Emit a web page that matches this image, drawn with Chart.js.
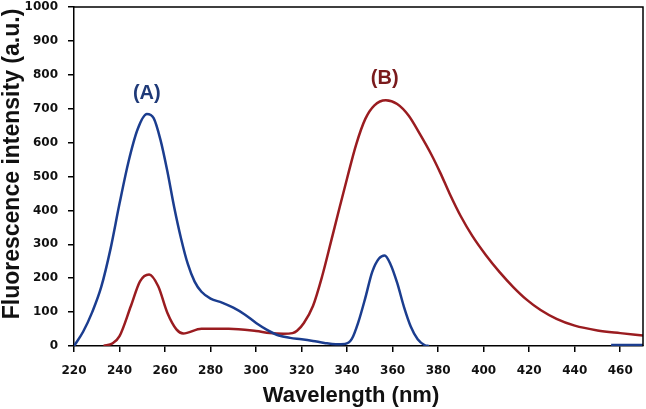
<!DOCTYPE html>
<html>
<head>
<meta charset="utf-8">
<script src="https://cdn.jsdelivr.net/npm/chart.js@4.4.1/dist/chart.umd.min.js"></script>
<style>
  html, body { margin: 0; padding: 0; background: #fff; }
  #wrap { width: 646px; height: 409px; }
</style>
</head>
<body>
<div id="wrap"><canvas id="myChart"></canvas></div>
<script>
// spectrum A (blue)
const blueWavelength = [220, 224, 228, 232, 236, 240, 244, 248, 252, 255, 258, 261, 264, 267, 270, 273, 276, 280, 285, 290, 295, 300, 305, 310, 315, 320, 325, 330, 335, 339, 342, 345, 348, 351, 354, 356.5, 359, 362, 365, 368, 371, 374, 376];
const blueIntensity  = [0, 42, 100, 175, 285, 420, 545, 640, 684, 672, 608, 516, 410, 318, 242, 190, 160, 140, 128, 113, 93, 68, 47, 31, 24, 20, 15, 9, 5, 6, 20, 72, 142, 218, 258, 267, 242, 186, 115, 57, 20, 3, 0];
// little stub at the far right
const blueTailWavelength = [456, 470];
const blueTailIntensity  = [3, 3];

// spectrum B (red)
const redWavelength = [233, 237, 240, 245, 249, 253, 257, 261, 265, 268, 276, 288, 300, 306, 312, 316, 318, 321, 325, 329, 333, 336, 340, 344, 348, 352, 357, 362, 367, 372, 377, 381, 385, 390, 395, 401, 407, 413, 419, 425, 432, 440, 450, 460, 470];
const redIntensity  = [0, 8, 29, 118, 191, 211, 176, 98, 49, 37, 51, 51, 44, 38, 36, 38, 45, 68, 118, 205, 310, 390, 495, 595, 670, 710, 725, 714, 680, 625, 565, 510, 450, 382, 325, 268, 218, 174, 136, 106, 80, 60, 46, 38, 31];

const xTicks = [220, 240, 260, 280, 300, 320, 340, 360, 380, 400, 420, 440, 460];
const yTicks = [0, 100, 200, 300, 400, 500, 600, 700, 800, 900, 1000];

const labelA = { text: '(A)', x: 252, y: 746 };
const labelB = { text: '(B)', x: 356.5, y: 790 };
const xTitle = 'Wavelength (nm)';
const yTitle = 'Fluorescence intensity (a.u.)';

const blueColor = '#1b3d8f';
const redColor = '#9a1c20';

function pts(xs, ys) {
  var out = [];
  for (let i = 0; i < xs.length; i++) out.push({ x: xs[i], y: ys[i] });
  return out;
}

var blueData = pts(blueWavelength, blueIntensity);
blueData.push({ x: 400, y: null });
blueData = blueData.concat(pts(blueTailWavelength, blueTailIntensity));

// frame, axis titles and (A)/(B) labels
const extras = {
  id: 'extras',
  afterDraw(chart) {
    const c = chart.ctx, a = chart.chartArea;
    const xs = chart.scales.x, ys = chart.scales.y;
    c.save();
    c.strokeStyle = '#000';
    c.lineWidth = 1.5;
    c.beginPath();
    c.moveTo(a.left, a.top);
    c.lineTo(a.right, a.top);
    c.lineTo(a.right, a.bottom);
    c.stroke();

    c.font = 'bold 20px "Liberation Sans", Arial, sans-serif';
    c.textAlign = 'center';
    c.textBaseline = 'middle';
    c.fillStyle = '#1f3a78';
    c.fillText(labelA.text, xs.getPixelForValue(labelA.x), ys.getPixelForValue(labelA.y));
    c.fillStyle = '#7a1a1c';
    c.fillText(labelB.text, xs.getPixelForValue(labelB.x), ys.getPixelForValue(labelB.y));

    c.fillStyle = '#111';
    c.font = 'bold 22px "Liberation Sans", Arial, sans-serif';
    c.textBaseline = 'alphabetic';
    c.fillText(xTitle, 351, 402);

    c.textBaseline = 'middle';
    c.translate(13, 164);
    c.rotate(-Math.PI / 2);
    c.font = 'bold 23px "Liberation Sans", Arial, sans-serif';
    c.fillText(yTitle, 0, 0);
    c.restore();
  }
};

const tickFont = { family: '"DejaVu Sans", Verdana, sans-serif', weight: 'bold', size: 12 };

new Chart(document.getElementById('myChart'), {
  type: 'line',
  data: {
    datasets: [
      {
        label: 'A',
        data: blueData,
        borderColor: blueColor,
        borderWidth: 2.5,
        pointRadius: 0,
        cubicInterpolationMode: 'monotone',
        spanGaps: false
      },
      {
        label: 'B',
        data: pts(redWavelength, redIntensity),
        borderColor: redColor,
        borderWidth: 2.5,
        pointRadius: 0,
        cubicInterpolationMode: 'monotone'
      }
    ]
  },
  options: {
    responsive: true,
    maintainAspectRatio: false,
    animation: false,
    layout: { padding: { top: 7, right: 3, left: 0, bottom: 0 } },
    plugins: { legend: { display: false }, tooltip: { enabled: false } },
    scales: {
      x: {
        type: 'linear',
        min: 220,
        max: 470,
        afterBuildTicks: function (s) { s.ticks = xTicks.map(v => ({ value: v })); },
        afterFit: function (s) { s.height = 63; s.paddingLeft = 0; s.paddingRight = 0; },
        ticks: { font: tickFont, color: '#111', padding: 12, maxRotation: 0, callback: v => String(v) },
        grid: { drawOnChartArea: false, tickLength: 6, color: '#000', lineWidth: 1.5 },
        border: { color: '#000', width: 1.5 }
      },
      y: {
        min: 0,
        max: 1000,
        afterBuildTicks: function (s) { s.ticks = yTicks.map(v => ({ value: v })); },
        afterFit: function (s) { s.width = 74; s.paddingTop = 0; s.paddingBottom = 0; },
        ticks: { font: tickFont, color: '#111', padding: 10, callback: v => String(v) },
        grid: { drawOnChartArea: false, tickLength: 6, color: '#000', lineWidth: 1.5 },
        border: { color: '#000', width: 1.5 }
      }
    }
  },
  plugins: [extras]
});
</script>
</body>
</html>
